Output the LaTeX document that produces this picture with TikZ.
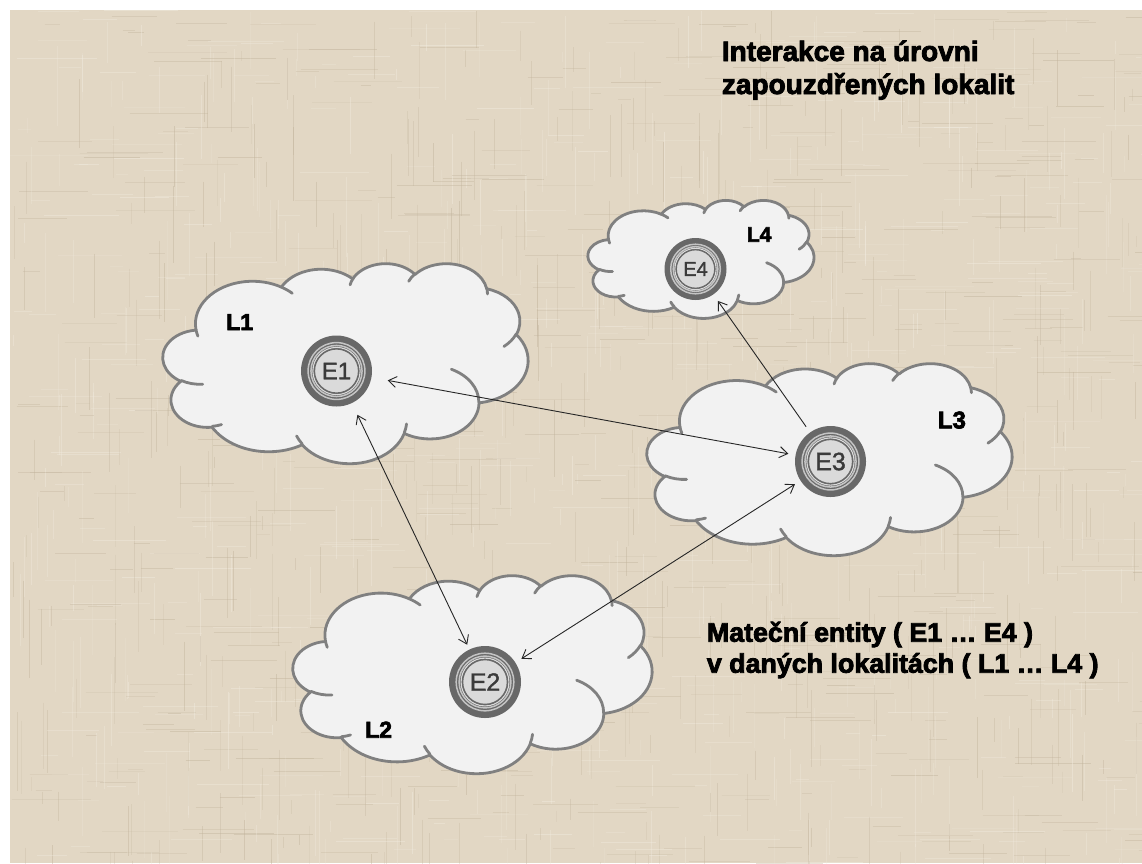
\documentclass[tikz,border=0pt]{standalone}
\usepackage{fontspec}
\setmainfont{Liberation Sans}
\newfontfamily\heavysans{Liberation Sans Bold}[FakeBold=3]
\newfontfamily\entsans{Liberation Sans}[FakeBold=1.5]
\usetikzlibrary{arrows.meta}

\definecolor{linen}{RGB}{226,215,196}
\definecolor{linenDark}{RGB}{192,178,154}
\definecolor{linenLight}{RGB}{242,236,224}
\definecolor{cloudFill}{RGB}{242,242,242}
\definecolor{cloudLine}{RGB}{128,128,128}
\definecolor{ringDark}{RGB}{104,104,104}
\definecolor{ringLight}{RGB}{196,196,196}
\definecolor{coreFill}{RGB}{218,218,218}
\definecolor{coreText}{RGB}{58,58,58}

% Cloud outline on a 432 x 432 frame, built from elliptic arcs.
% \cloudarc{x radius}{y radius}{start angle}{sweep}: the angles are
% ray angles, turned here into the parametric angles TikZ expects.
\newcommand\cloudmove[2]{\xdef\cloudpath{\cloudpath (#1,#2)}}
\newcommand\cloudarc[4]{%
  \pgfmathsetmacro\arcS{#3+Mod(atan2(#1*sin(#3),#2*cos(#3))-(#3)+180,360)-180}%
  \pgfmathsetmacro\arcE{#3+#4+Mod(atan2(#1*sin(#3+#4),#2*cos(#3+#4))-(#3+#4)+180,360)-180}%
  \xdef\cloudpath{\cloudpath arc[x radius=#1,y radius=#2,start angle=\arcS,end angle=\arcE]}}

\gdef\cloudpath{}
\cloudmove{39.00}{143.70}
\cloudarc{67.53}{91.90}{-190.4875}{123.7805}
\cloudarc{53.33}{72.67}{-144.1024}{89.9452}
\cloudarc{43.65}{59.45}{-145.8079}{99.7230}
\cloudarc{48.57}{65.95}{-130.9861}{117.2417}
\cloudarc{53.33}{72.73}{-78.7089}{109.0269}
\cloudarc{67.75}{92.20}{-46.2673}{130.2690}
\cloudarc{57.85}{78.67}{0.6250}{114.0333}
\cloudarc{67.52}{92.15}{22.4516}{115.1726}
\cloudarc{77.20}{105.43}{66.2426}{75.7110}
\cloudarc{43.60}{59.18}{-274.9421}{146.7356}
\cloudarc{43.45}{59.45}{-246.8285}{152.5189}
\xdef\cloudoutline{\cloudpath -- cycle}

% the short creases inside the cloud
\gdef\cloudpath{}
\cloudmove{46.93}{261.77}\cloudarc{43.45}{59.45}{86.7420}{26.4295}
\cloudmove{69.28}{348.99}\cloudarc{43.60}{59.18}{73.6105}{11.4475}
\cloudmove{164.78}{390.90}\cloudarc{67.52}{92.15}{137.6242}{14.0811}
\cloudmove{288.27}{347.51}\cloudarc{67.52}{92.15}{6.4533}{15.9984}
\cloudmove{341.29}{229.54}\cloudarc{57.85}{78.67}{-70.2924}{70.9174}
\cloudmove{417.98}{153.54}\cloudarc{53.33}{72.73}{30.3180}{27.7515}
\cloudmove{383.24}{54.26}\cloudarc{48.57}{65.95}{-13.7443}{14.8589}
\cloudmove{290.78}{39.52}\cloudarc{48.57}{65.95}{-149.1815}{18.1954}
\cloudmove{221.41}{47.20}\cloudarc{43.65}{59.45}{-163.4943}{17.6864}
\cloudmove{140.00}{51.92}\cloudarc{67.53}{91.90}{-66.7070}{12.3194}
\cloudmove{41.27}{157.89}\cloudarc{67.53}{91.90}{157.6544}{11.8582}
\xdef\cloudinner{\cloudpath}

\tikzset{
  cloudbody/.style={fill=cloudFill, draw=cloudLine, line width=2.8pt, line join=round},
  cloudcrease/.style={draw=cloudLine, line width=2.8pt, line cap=round},
  entity/.style={circle, inner sep=0pt, outer sep=0pt, text=coreText},
  loclabel/.style={anchor=base west, inner sep=0pt, font=\heavysans\fontsize{#1}{#1}\selectfont},
  conn/.style={draw=black!85, line width=0.9pt},
  tip/.tip={Straight Barb[length=8pt,width=11pt]},
  note/.style={anchor=base west, inner sep=0pt, align=left}
}

% cloud: name, left, top, width, height
\newcommand\cloud[5]{%
  \pgfmathsetmacro\cw{#4/432}\pgfmathsetmacro\ch{#5/432}%
  \begin{scope}[shift={(#2,#3)}, x=\cw pt, y=-\ch pt]
    \path[cloudbody] \cloudoutline;
    \path[cloudcrease] \cloudinner;
    \coordinate (#1) at (216,216);
  \end{scope}}

% ringed entity: name, x, y, outer radius, font size, label
\newcommand\entity[6]{%
  \fill[ringDark] (#2,#3) circle[radius=#4];
  \draw[ringLight, line width=1.5pt] (#2,#3) circle[radius=0.80*#4]
                                     (#2,#3) circle[radius=0.72*#4];
  \draw[coreFill, line width=1.1pt] (#2,#3) circle[radius=0.665*#4];
  \filldraw[fill=coreFill, draw=ringDark, line width=1.2pt] (#2,#3) circle[radius=0.62*#4];
  \node[entity, minimum size={2*#4*1pt}, font=\entsans\fontsize{#5}{#5}\selectfont] (#1) at (#2,#3) {#6};}

\begin{document}
\begin{tikzpicture}[x=1pt, y=-1pt]
\useasboundingbox (0,0) rectangle (1142,863);
\fill[white] (0,0) rectangle (1142,863);

% linen backdrop
\begin{scope}
  \clip (10,10) rectangle (1142,863);
  \fill[linen] (10,10) rectangle (1142,863);
  \pgfmathsetseed{42}
  \foreach \i in {1,...,450}{
    \pgfmathsetmacro\px{10+1132*rnd}
    \pgfmathsetmacro\py{10+853*rnd}
    \pgfmathsetmacro\len{10+70*rnd}
    \pgfmathsetmacro\op{0.15+0.3*rnd}
    \draw[linenDark, opacity=\op, line width=0.8pt] (\px,\py) -- ++(\len,0);
    \pgfmathsetmacro\px{10+1132*rnd}
    \pgfmathsetmacro\py{10+853*rnd}
    \pgfmathsetmacro\len{10+70*rnd}
    \draw[linenDark, opacity=\op, line width=0.8pt] (\px,\py) -- ++(0,\len);
    \pgfmathsetmacro\px{10+1132*rnd}
    \pgfmathsetmacro\py{10+853*rnd}
    \pgfmathsetmacro\len{10+70*rnd}
    \draw[linenLight, opacity=\op, line width=0.8pt] (\px,\py) -- ++(\len,0);
    \pgfmathsetmacro\px{10+1132*rnd}
    \pgfmathsetmacro\py{10+853*rnd}
    \pgfmathsetmacro\len{10+70*rnd}
    \draw[linenLight, opacity=\op, line width=0.8pt] (\px,\py) -- ++(0,\len);
  }
\end{scope}

% localities
\cloud{c1}{163}{263}{365}{200}
\cloud{c2}{293}{575}{359}{198}
\cloud{c3}{647}{363}{365}{192}
\cloud{c4}{588}{200}{226}{118}

\node[loclabel=23] (l1) at (226,330) {L1};
\node[loclabel=23] (l2) at (365,737.7) {L2};
\node[loclabel=24] (l3) at (937.7,428.3) {L3};
\node[loclabel=21] (l4) at (746.7,241.7) {L4};

% parent entities
\entity{e1}{336.5}{371}{35.5}{24}{E1}
\entity{e2}{485}{682}{36}{25}{E2}
\entity{e3}{830.5}{461.5}{35.5}{25}{E3}
\entity{e4}{695.5}{269}{31}{20}{E4}

% interactions
\draw[conn, tip-tip, shorten <=16.5pt, shorten >=7.4pt] (e1) -- (e3);
\draw[conn, tip-tip, shorten <=13pt, shorten >=5.3pt] (e1) -- (e2);
\draw[conn, tip-tip, shorten <=6.7pt, shorten >=7.2pt] (e3) -- (e2);
\draw[conn, -tip, shorten <=7pt, shorten >=8pt] (e3) -- (e4);

% captions (anchored on the baseline of their last line)
\node[note, font=\heavysans\fontsize{28}{33}\selectfont] (title) at (721.7,94)
  {Interakce na úrovni\\zapouzdřených lokalit};
\node[note, font=\heavysans\fontsize{26.8}{31}\selectfont] (legend) at (706.7,672.7)
  {Mateční entity ( E1 … E4 )\\v daných lokalitách ( L1 … L4 )};
\end{tikzpicture}
\end{document}
